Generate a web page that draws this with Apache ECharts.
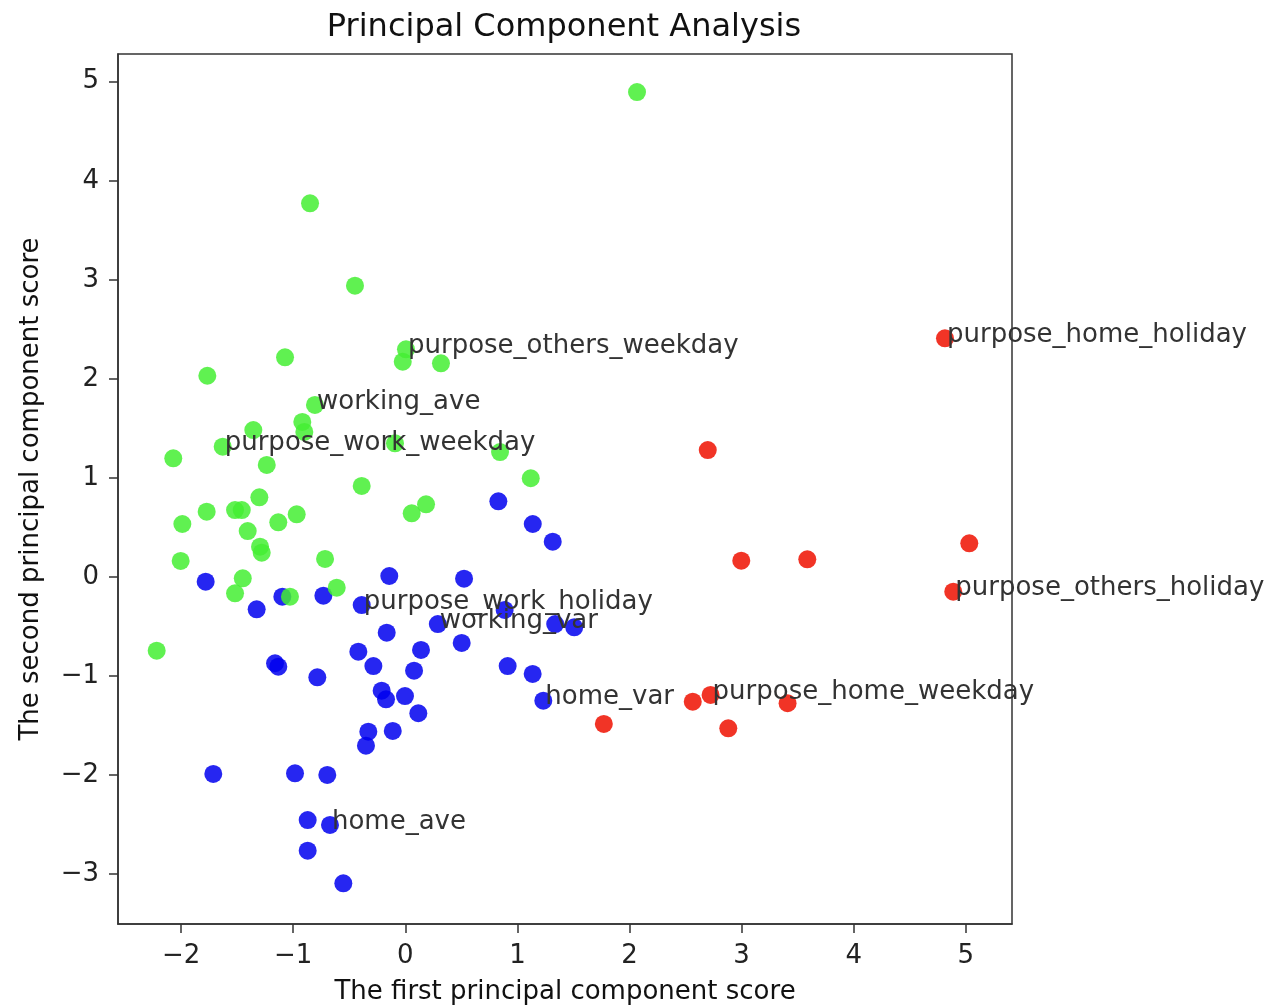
<!DOCTYPE html>
<html>
<head>
<meta charset="utf-8">
<script src="https://cdn.jsdelivr.net/npm/echarts@6/dist/echarts.min.js"></script>
<style>
  html, body { margin: 0; padding: 0; background: #fff; }
  #chart { width: 1275px; height: 1006px; }
</style>
</head>
<body>
<div id="chart"></div>
<script>
// ---- data ----
const greenX = [2.067, -0.850, -0.449, -1.073, -1.766, 0.006, -0.023, 0.318, -0.806, -0.919, -0.901, -1.356, -1.629, -2.070, -1.236, -0.092, 0.845, 1.119, -0.389, 0.057, 0.185, -1.989, -1.772, -1.519, -1.459, -1.302, -1.133, -0.969, -1.406, -1.296, -1.281, -2.004, -0.716, -1.450, -1.519, -0.612, -1.029, -2.218];
const greenY = [4.896, 3.772, 2.940, 2.217, 2.031, 2.298, 2.173, 2.157, 1.736, 1.565, 1.464, 1.483, 1.315, 1.197, 1.130, 1.349, 1.261, 0.996, 0.918, 0.642, 0.733, 0.534, 0.658, 0.675, 0.675, 0.804, 0.551, 0.632, 0.463, 0.305, 0.244, 0.161, 0.181, -0.014, -0.166, -0.109, -0.200, -0.745];

const blueX = [0.830, 1.137, 1.315, -1.781, -0.143, 0.524, -1.326, -1.097, -0.731, -0.389, 0.886, 0.290, 1.337, 1.507, -0.166, -0.419, 0.503, 0.140, -1.162, -1.133, -0.285, 0.078, -0.785, 0.913, 1.136, -0.211, -0.172, -0.003, 1.231, 0.116, -0.330, -0.112, -0.351, -1.713, -0.984, -0.696, -0.871, -0.672, -0.871, -0.553];
const blueY = [0.763, 0.534, 0.355, -0.048, 0.009, -0.018, -0.327, -0.200, -0.190, -0.284, -0.334, -0.476, -0.476, -0.509, -0.563, -0.755, -0.667, -0.738, -0.872, -0.907, -0.900, -0.947, -1.014, -0.900, -0.980, -1.149, -1.236, -1.203, -1.250, -1.377, -1.563, -1.556, -1.704, -1.990, -1.983, -2.000, -2.455, -2.505, -2.765, -3.094];

const redX = [4.814, 2.698, 2.997, 3.586, 5.031, 4.888, 2.723, 2.564, 3.410, 1.771, 2.881];
const redY = [2.409, 1.281, 0.164, 0.178, 0.339, -0.149, -1.192, -1.260, -1.276, -1.485, -1.529];

// annotation names and the point (group, index) each one is attached to
const labelNames = ['purpose_home_holiday', 'purpose_others_holiday', 'purpose_home_weekday',
                    'purpose_others_weekday', 'working_ave', 'purpose_work_weekday',
                    'purpose_work_holiday', 'working_var', 'home_var', 'home_ave'];
const labelGroup = ['red', 'red', 'red', 'green', 'green', 'green', 'blue', 'blue', 'blue', 'blue'];
const labelIndex = [0, 5, 6, 5, 8, 12, 9, 11, 28, 37];

const tickX = [-2, -1, 0, 1, 2, 3, 4, 5];
const tickY = [-3, -2, -1, 0, 1, 2, 3, 4, 5];

// ---- chart ----
const groups = {
  green: { x: greenX, y: greenY },
  blue: { x: blueX, y: blueY },
  red: { x: redX, y: redY }
};
const pts = g => groups[g].x.map((v, i) => [v, groups[g].y[i]]);
const labelData = labelNames.map((n, k) => {
  const g = groups[labelGroup[k]];
  return { value: [g.x[labelIndex[k]], g.y[labelIndex[k]]], name: n };
});

const FONT = 'DejaVu Sans';
const SYM = 18;
const fmt = v => String(v).replace('-', '\u2212');

const chart = echarts.init(document.getElementById('chart'), null, { renderer: 'canvas' });
chart.setOption({
  animation: false,
  backgroundColor: '#fff',
  title: {
    text: 'Principal Component Analysis',
    left: 559, top: 7, textAlign: 'center',
    textStyle: { fontFamily: FONT, fontSize: 32, fontWeight: 'normal', color: '#111' }
  },
  grid: {
    left: 118, right: 263, top: 54, bottom: 82,
    outerBoundsMode: 'none', containLabel: false,
    show: true, borderColor: '#333', borderWidth: 1.5, backgroundColor: 'transparent'
  },
  xAxis: {
    type: 'value', min: -2.563, max: 5.412,
    name: 'The first principal component score', nameLocation: 'middle', nameGap: 55,
    nameTextStyle: { fontFamily: FONT, fontSize: 26, color: '#111' },
    axisLine: { show: true, onZero: false, lineStyle: { color: '#333', width: 1.5 } },
    axisTick: { show: true, inside: false, length: 9, customValues: tickX, lineStyle: { color: '#333', width: 1.5 } },
    axisLabel: { customValues: tickX, margin: 19, fontFamily: FONT, fontSize: 26, color: '#222', formatter: fmt },
    splitLine: { show: false }
  },
  yAxis: {
    type: 'value', min: -3.505, max: 5.280,
    name: 'The second principal component score', nameLocation: 'middle', nameGap: 74,
    nameTextStyle: { fontFamily: FONT, fontSize: 26, color: '#111' },
    axisLine: { show: true, onZero: false, lineStyle: { color: '#333', width: 1.5 } },
    axisTick: { show: true, inside: false, length: 9, customValues: tickY, lineStyle: { color: '#333', width: 1.5 } },
    axisLabel: { customValues: tickY, margin: 19, fontFamily: FONT, fontSize: 26, color: '#222', formatter: fmt },
    splitLine: { show: false }
  },
  series: [
    { type: 'scatter', name: 'red', data: pts('red'), symbolSize: SYM, z: 2,
      itemStyle: { color: '#ee1100', opacity: 0.85 } },
    { type: 'scatter', name: 'blue', data: pts('blue'), symbolSize: SYM, z: 3,
      itemStyle: { color: '#0000ee', opacity: 0.85 } },
    { type: 'scatter', name: 'green', data: pts('green'), symbolSize: SYM, z: 4,
      itemStyle: { color: '#44ee33', opacity: 0.85 } },
    { type: 'scatter', name: 'labels', data: labelData, symbolSize: 2, z: 10, silent: true,
      itemStyle: { color: 'rgba(0,0,0,0)' },
      label: {
        show: true, formatter: p => p.name,
        position: [3, 11], align: 'left', verticalAlign: 'bottom',
        fontFamily: FONT, fontSize: 26, color: '#333', opacity: 1
      },
      emphasis: { disabled: true },
      labelLayout: { hideOverlap: false }
    }
  ]
});
</script>
</body>
</html>
